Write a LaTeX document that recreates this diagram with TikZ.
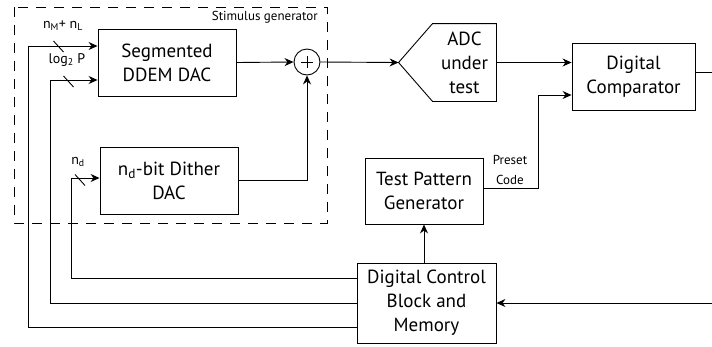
\documentclass[tikz,border=0pt]{standalone}
\usepackage{fontspec}
\setmainfont{PT Sans}
\usetikzlibrary{arrows.meta,calc}

\tikzset{
    wire/.style={line width=0.9pt},
    arr/.style={wire,-{Stealth[length=9pt,width=8pt]}},
    blk/.style={draw,wire,align=center,inner sep=0pt,
        font=\fontsize{19}{24}\selectfont},
    lbl/.style={inner sep=0pt,align=center,
        font=\fontsize{13}{20}\selectfont},
    bitlbl/.style={inner sep=0pt,font=\fontsize{14}{16}\selectfont},
}

\begin{document}
\begin{tikzpicture}[x=1pt,y=-1pt]

\useasboundingbox (0,0) rectangle (712,346);
\clip (0,0) rectangle (712,346);

% Stimulus generator outline.
\draw[wire,dash pattern=on 10pt off 8pt] (14,7) rectangle (327,223);
\node[lbl,anchor=east] (stimlbl) at (318,17) {Stimulus generator};

% Blocks.
\node[blk,minimum width=138pt,minimum height=67pt] (ddem)
    at (167,62.5) {Segmented\\DDEM DAC};
\node[blk,minimum width=138pt,minimum height=67pt] (dither)
    at (169,180.5) {n\textsubscript{d}-bit Dither\\DAC};
\node[draw,wire,circle,minimum size=26pt,inner sep=0pt,
    font=\fontsize{24}{24}\selectfont] (sum) at (307,62) {};
\draw[wire] (sum.center) ++(-6,0) -- ++(12,0)
    (sum.center) ++(0,-6) -- ++(0,12);
\node[blk,draw=none,minimum width=63pt,minimum height=77pt] (adc)
    at (464.5,62.5) {ADC\\under\\test};
\node[blk,minimum width=123pt,minimum height=67pt] (comp)
    at (633.5,76.5) {Digital\\Comparator};
\node[blk,minimum width=118pt,minimum height=66pt] (tpg)
    at (424,191) {Test Pattern\\Generator};
\node[blk,minimum width=139pt,minimum height=80pt] (dcb)
    at (426.5,303) {Digital Control\\Block and\\Memory};

% ADC body, pointed at the input side.
\coordinate (adctip) at ($(adc.west)+(-34,0)$);
\draw[wire]
    (adc.north east) -- (adc.north west)
    -- (adctip)
    -- (adc.south west) -- (adc.south east)
    -- cycle;

% Summing of both DACs.
\draw[arr] (ddem.east) -- (sum.west);
\draw[arr] (dither.east) -| (sum.south);

% Into the ADC and on to the comparator.
\draw[arr] (sum.east) -- (adctip);
\draw[arr] (adc.east) -- (comp.west |- adc.east);

% Preset code from the pattern generator.
\coordinate (pcbend) at (538,188);
\draw[arr] (tpg.east |- pcbend) -- (pcbend)
    |- ($(comp.west)+(0,18.5)$);
\node[lbl] (pclbl) at (510,170) {Preset\\Code};

% Comparator result back to the control block.
\coordinate (fbr) at (740,72);
\draw[arr] (comp.east |- fbr) -- (fbr) |- (dcb.east);

% Control block drives the pattern generator.
\draw[arr] (dcb.north -| tpg.south) -- (tpg.south);

% Control words into the DACs.
\foreach \dy/\x/\tgt/\ty/\n in {-25/71/dither/-2.5/a,
                               0/50/ddem/17.5/b,
                               24/28/ddem/-16.5/c} {
    \coordinate (tin\n) at ($(\tgt.west)+(0,\ty)$);
    \coordinate (tx\n) at (\x,0);
    \draw[arr] ($(dcb.west)+(0,\dy)$) -| (tin\n -| tx\n) -- (tin\n);
}

% Bus width marks.
\foreach \cx/\cy in {58.5/46.5,68.5/81.5,80/180} {
    \draw[wire] (\cx,\cy) ++(-5,-5.5) -- ++(10,11);
}
\node[bitlbl] (nmlbl) at (63,26) {n\textsubscript{M}+ n\textsubscript{L}};
\node[bitlbl] (loglbl) at (67,60) {log\textsubscript{2} P};
\node[bitlbl] (ndlbl) at (78,162) {n\textsubscript{d}};

\end{tikzpicture}
\end{document}
